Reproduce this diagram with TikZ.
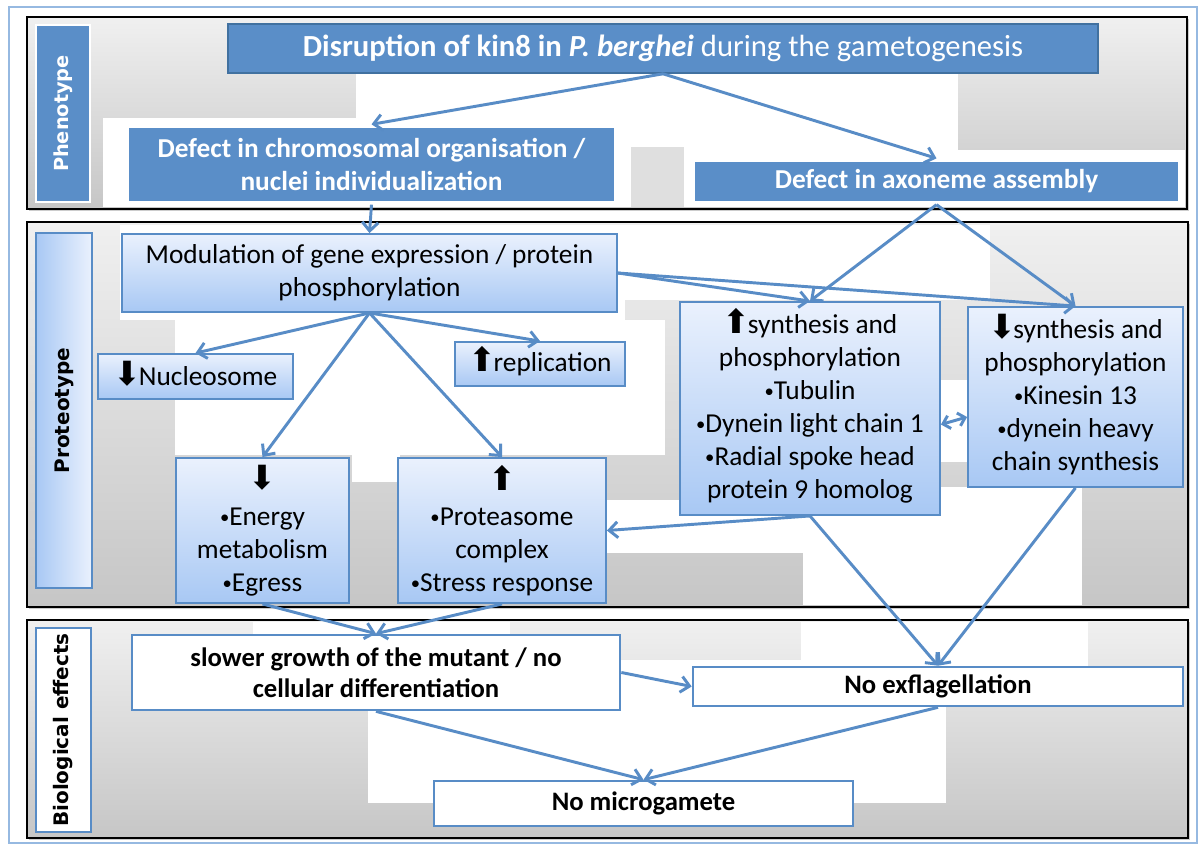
\documentclass[tikz,border=0pt]{standalone}
\usepackage{fontspec}
\setmainfont{Carlito}
\newfontfamily\labelfont{DejaVu Sans}
\usepackage{tikz}
\usetikzlibrary{arrows.meta, shadows}

\definecolor{boxblue}{RGB}{90,142,200}
\definecolor{darkblue}{RGB}{65,113,160}
\definecolor{lineblue}{RGB}{88,140,198}
\definecolor{paleblue}{RGB}{234,241,253}
\definecolor{skyblue}{RGB}{168,200,244}
\definecolor{frameblue}{RGB}{150,185,225}
\definecolor{panellight}{RGB}{240,240,240}
\definecolor{paneldark}{RGB}{198,198,198}

\newcommand{\arrsize}{\labelfont\fontsize{25}{25}\selectfont}
\newcommand{\uparr}{{\arrsize\smash{⬆}}\kern-2pt}
\newcommand{\dnarr}{{\arrsize\smash{⬇}}\kern-2pt}
\newcommand{\bul}{\raisebox{1.5pt}{\fontsize{14}{14}\selectfont•}}

\begin{document}
\begin{tikzpicture}[x=0.75pt, y=-0.75pt,
    panel/.style={draw=black, line width=1.5pt, top color=panellight, bottom color=paneldark,
      drop shadow={shadow xshift=1.5pt, shadow yshift=-1.5pt, opacity=.4}},
    tag/.style={rotate=90, font=\labelfont\bfseries\fontsize{15}{18}\selectfont},
    phen/.style={fill=boxblue, text=white, align=center, inner sep=2pt,
      font=\bfseries\fontsize{20.5}{24.75}\selectfont},
    prot/.style={draw=lineblue, line width=1.4pt, top color=paleblue, bottom color=skyblue,
      align=center, inner sep=2pt, font=\fontsize{20.5}{24.75}\selectfont},
    bio/.style={draw=lineblue, line width=2pt, fill=white, align=center, inner sep=2pt,
      font=\bfseries\fontsize{20}{23}\selectfont},
    link/.style={draw=lineblue, line width=2.2pt, -{Straight Barb[length=6.5pt,width=12pt]}}]

  \useasboundingbox (0,0) rectangle (1201,847);
  \draw[frameblue, line width=1.2pt] (9,7) rectangle (1197,843);

  % panels and their background patches
  \path[panel] (27,17) rectangle (1187,209);
  \path[panel] (27,222) rectangle (1188,607);
  \path[panel] (27,620) rectangle (1188,838);
  \foreach \xa/\ya/\xb/\yb in {356/30/958/207, 103/118/356/207, 958/150/1185/207,
      120/225/625/320, 175/320/665/455, 625/225/990/300, 352/455/400/482,
      607/500/803/553, 803/487/1082/605, 932/380/975/462,
      253/622/510/640, 368/660/946/803, 801/622/1088/668}
    \fill[white] (\xa,\ya) rectangle (\xb,\yb);
  \fill[gray!25] (631,147) rectangle (684,207);

  % side labels
  \node[tag, fill=boxblue, draw=white, line width=2pt, text=white, font=\labelfont\bfseries\fontsize{14.5}{17}\selectfont,
    minimum width=132.75pt, minimum height=40.5pt] (phenotype) at (63,113.5) {Phenotype};
  \node[tag, draw=lineblue, line width=1.4pt, left color=skyblue, right color=paleblue,
    minimum width=266.25pt, minimum height=42pt] (proteotype) at (64,410.5) {Proteotype};
  \node[tag, draw=lineblue, line width=2pt, fill=white,
    minimum width=153pt, minimum height=41.25pt] (effects) at (63.5,730) {Biological effects};

  % phenotype
  \node[phen, draw=darkblue, line width=1.2pt, font=\bfseries\fontsize{23}{27}\selectfont,
    minimum width=652.5pt, minimum height=36.75pt] (disruption) at (663,48.5)
    {Disruption of kin8 in \textit{P. berghei} \mdseries during the gametogenesis};
  \node[phen, draw=white, line width=2.5pt, minimum width=366.75pt, minimum height=57.75pt]
    (chromosome) at (371.5,164.5) {Defect in chromosomal organisation /\\ nuclei individualization};
  \node[phen, draw=white, line width=2.5pt, minimum width=365.25pt, minimum height=32.25pt]
    (axoneme) at (936.5,181.5) {Defect in axoneme assembly};

  % proteotype
  \node[prot, minimum width=371.25pt, minimum height=58.5pt] (modulation) at (369.5,273)
    {Modulation of gene expression / protein\\ phosphorylation};
  \node[prot, minimum width=146.25pt, minimum height=33.75pt] (nucleosome) at (195.5,376.5)
    {\dnarr Nucleosome};
  \node[prot, minimum width=127.5pt, minimum height=33pt] (replication) at (540,364)
    {\uparr replication};
  \node[prot, minimum width=129.75pt, minimum height=108.75pt] (energy) at (262.5,530.5)
    {{\arrsize ⬇}\\[2pt] \bul Energy\\ metabolism\\ \bul Egress};
  \node[prot, minimum width=156pt, minimum height=108.75pt] (proteasome) at (502,530.5)
    {{\arrsize ⬆}\\[2pt] \bul Proteasome\\ complex\\ \bul Stress response};
  \node[prot, minimum width=195pt, minimum height=159.75pt] (upsynth) at (810,408.5)
    {\uparr synthesis and\\ phosphorylation\\ \bul Tubulin\\ \bul Dynein light chain 1\\ \bul Radial spoke head\\ protein 9 homolog};
  \node[prot, minimum width=161.25pt, minimum height=135pt] (downsynth) at (1075.5,397)
    {\dnarr synthesis and\\ phosphorylation\\ \bul Kinesin 13\\ \bul dynein heavy\\ chain synthesis};

  % biological effects
  \node[bio, minimum width=366pt, minimum height=56.25pt] (growth) at (376,672.5)
    {slower growth of the mutant / no\\ cellular differentiation};
  \node[bio, minimum width=367.5pt, minimum height=29.25pt] (exflagellation) at (938,686.5)
    {No exflagellation};
  \node[bio, minimum width=314.25pt, minimum height=33.75pt] (microgamete) at (643.5,803.5)
    {No microgamete};

  % connectors
  \draw[link] (disruption.south) -- (chromosome.north);
  \draw[link] (disruption.south) -- (axoneme.north);
  \draw[link] (chromosome.south) -- (modulation.north);
  \draw[link] (axoneme.south) -- (upsynth.north);
  \draw[link] (axoneme.south) -- (downsynth.north);
  \foreach \n in {nucleosome, replication, energy, proteasome}
    \draw[link] (modulation.south) -- (\n.north);
  \draw[link] (modulation.east) -- (upsynth.north);
  \draw[link] (modulation.east) -- (downsynth.north);
  \draw[link, {Straight Barb[length=5pt,width=10pt]}-{Straight Barb[length=5pt,width=10pt]}]
    ([yshift=-12pt]upsynth.east) -- ([yshift=-15pt]downsynth.west);
  \draw[link] (upsynth.south) -- (proteasome.east);
  \draw[link] (upsynth.south) -- (exflagellation.north);
  \draw[link] (downsynth.south) -- (exflagellation.north);
  \draw[link] (energy.south) -- (growth.north);
  \draw[link] (proteasome.south) -- (growth.north);
  \draw[link] (growth.east) -- (exflagellation.west);
  \draw[link] (growth.south) -- (microgamete.north);
  \draw[link] (exflagellation.south) -- (microgamete.north);
\end{tikzpicture}
\end{document}
